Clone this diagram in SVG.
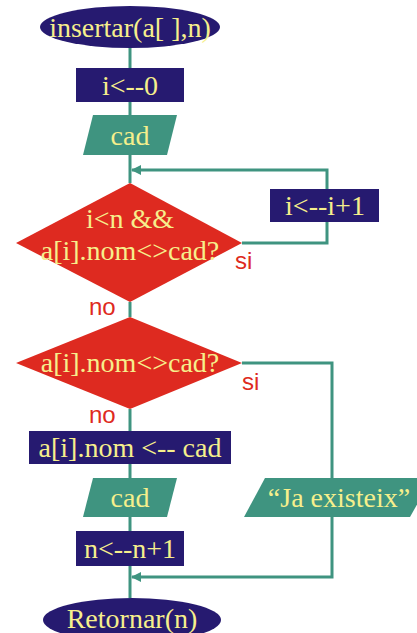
<svg xmlns="http://www.w3.org/2000/svg" width="417" height="633" viewBox="0 0 417 633">
<style>
.term{fill:#261a70;}
.proc{fill:#261a70;}
.io{fill:#3f9480;}
.dec{fill:#de2a20;}
.t{font-family:"Liberation Serif","Times New Roman",serif;font-size:28px;fill:#f6ef8c;text-anchor:middle;}
.lbl{font-family:"Liberation Sans",Arial,sans-serif;font-size:24px;fill:#de2a20;}
.c{fill:none;stroke:#3f9480;stroke-width:3;}
</style>
<defs>
<marker id="ah" markerWidth="10" markerHeight="10" refX="9" refY="5" orient="auto" markerUnits="userSpaceOnUse">
<path d="M0,0 L10,5 L0,10 Z" fill="#3f9480"/>
</marker>
</defs>
<g id="connectors">
<path class="c" d="M130,48 V68"/>
<path class="c" d="M130,102 V115"/>
<path class="c" d="M130,155 V183"/>
<path class="c" d="M242,243 H327 V222"/>
<path class="c" d="M327,189 V170 H132" marker-end="url(#ah)"/>
<path class="c" d="M130,302 V317"/>
<path class="c" d="M130,409 V431"/>
<path class="c" d="M130,464 V478"/>
<path class="c" d="M130,517 V531"/>
<path class="c" d="M130,566 V598"/>
<path class="c" d="M242,363 H332 V478"/>
<path class="c" d="M332,517 V577 H132" marker-end="url(#ah)"/>
</g>
<g id="start">
<ellipse class="term" cx="130" cy="27" rx="90" ry="21"/>
<text class="t" x="130" y="37">insertar(a[ ],n)</text>
</g>
<g id="init">
<rect class="proc" x="76" y="68" width="108" height="34"/>
<text class="t" x="130" y="95">i&lt;--0</text>
</g>
<g id="read1">
<polygon class="io" points="93,115 177,115 167,155 83,155"/>
<text class="t" x="130" y="145">cad</text>
</g>
<g id="cond1">
<polygon class="dec" points="130,183 242,243 130,302 16,243"/>
<text class="t" x="130" y="228">i&lt;n &amp;&amp;</text>
<text class="t" x="130" y="260">a[i].nom&lt;&gt;cad?</text>
</g>
<g id="inc">
<rect class="proc" x="270" y="189" width="109" height="33"/>
<text class="t" x="325" y="215">i&lt;--i+1</text>
</g>
<g id="cond2">
<polygon class="dec" points="130,317 242,363 130,409 16,363"/>
<text class="t" x="130" y="372">a[i].nom&lt;&gt;cad?</text>
</g>
<g id="assign">
<rect class="proc" x="29" y="431" width="202" height="33"/>
<text class="t" x="130" y="457">a[i].nom &lt;-- cad</text>
</g>
<g id="read2">
<polygon class="io" points="93,478 177,478 167,517 83,517"/>
<text class="t" x="130" y="507">cad</text>
</g>
<g id="msg">
<polygon class="io" points="265,478 432,478 410,517 244,517"/>
<text class="t" x="339" y="507">“Ja existeix”</text>
</g>
<g id="incn">
<rect class="proc" x="76" y="531" width="108" height="35"/>
<text class="t" x="130" y="558">n&lt;--n+1</text>
</g>
<g id="end">
<ellipse class="term" cx="132" cy="620" rx="89" ry="22"/>
<text class="t" x="132" y="628">Retornar(n)</text>
</g>
<g id="labels">
<text class="lbl" x="235" y="269">si</text>
<text class="lbl" x="89" y="315">no</text>
<text class="lbl" x="242" y="390">si</text>
<text class="lbl" x="89" y="423">no</text>
</g>
</svg>
